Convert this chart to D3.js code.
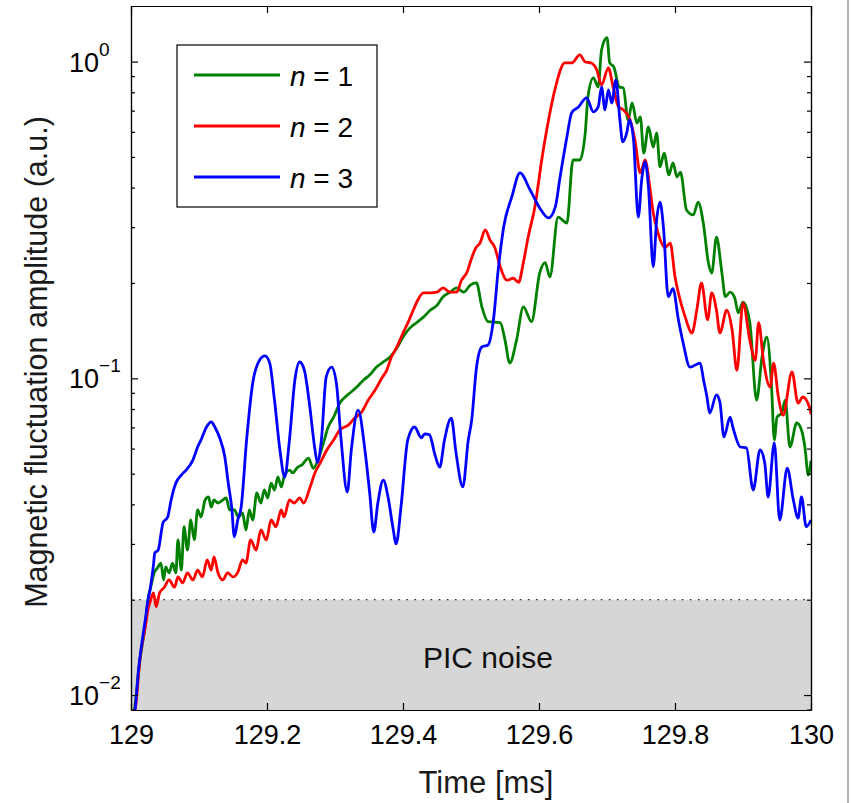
<!DOCTYPE html>
<html>
<head>
<meta charset="utf-8">
<script src="https://cdn.jsdelivr.net/npm/d3@7"></script>
<style>
  body { margin: 0; background: #fff; }
  svg { display: block; font-family: "Liberation Sans", Arial, Helvetica, sans-serif; }
</style>
</head>
<body>
<div id="chart"></div>
<script>
// n = 1 (green)
const timeN1 = [129.003, 129.007, 129.011, 129.016, 129.021, 129.025, 129.029, 129.034, 129.039, 129.044, 129.048, 129.051, 129.056, 129.061, 129.066, 129.069, 129.074, 129.078, 129.083, 129.088, 129.093, 129.098, 129.103, 129.109, 129.114, 129.118, 129.122, 129.128, 129.135, 129.140, 129.145, 129.152, 129.158, 129.164, 129.169, 129.174, 129.179, 129.185, 129.191, 129.196, 129.201, 129.206, 129.211, 129.216, 129.221, 129.225, 129.233, 129.238, 129.245, 129.251, 129.261, 129.268, 129.275, 129.283, 129.290, 129.298, 129.307, 129.315, 129.322, 129.332, 129.342, 129.351, 129.361, 129.371, 129.381, 129.391, 129.400, 129.410, 129.420, 129.430, 129.440, 129.450, 129.459, 129.469, 129.479, 129.489, 129.499, 129.508, 129.516, 129.525, 129.543, 129.550, 129.557, 129.567, 129.577, 129.589, 129.601, 129.609, 129.616, 129.628, 129.641, 129.650, 129.660, 129.668, 129.672, 129.680, 129.687, 129.692, 129.700, 129.704, 129.710, 129.718, 129.724, 129.731, 129.737, 129.744, 129.749, 129.754, 129.761, 129.768, 129.773, 129.778, 129.784, 129.791, 129.797, 129.803, 129.808, 129.817, 129.827, 129.834, 129.842, 129.849, 129.854, 129.861, 129.869, 129.874, 129.881, 129.888, 129.893, 129.900, 129.910, 129.920, 129.928, 129.935, 129.942, 129.946, 129.950, 129.957, 129.962, 129.969, 129.979, 129.986, 129.991, 129.996, 130.000];
const ampN1 = [0.0084, 0.0097, 0.0118, 0.0142, 0.0166, 0.0200, 0.0219, 0.0243, 0.0252, 0.0261, 0.0231, 0.0254, 0.0243, 0.0261, 0.0243, 0.0309, 0.0248, 0.0340, 0.0287, 0.0357, 0.0309, 0.0384, 0.0365, 0.0413, 0.0422, 0.0392, 0.0413, 0.0404, 0.0413, 0.0419, 0.0384, 0.0384, 0.0365, 0.0376, 0.0332, 0.0384, 0.0357, 0.0435, 0.0404, 0.0444, 0.0419, 0.0467, 0.0444, 0.0488, 0.0454, 0.0488, 0.0513, 0.0503, 0.0524, 0.0532, 0.0560, 0.0520, 0.0552, 0.0625, 0.0702, 0.0754, 0.0835, 0.0873, 0.0899, 0.0939, 0.0988, 0.1024, 0.1085, 0.1126, 0.1168, 0.1247, 0.135, 0.144, 0.150, 0.156, 0.164, 0.170, 0.181, 0.187, 0.193, 0.187, 0.197, 0.200, 0.168, 0.151, 0.150, 0.132, 0.1117, 0.132, 0.168, 0.151, 0.215, 0.232, 0.209, 0.323, 0.309, 0.489, 0.489, 0.596, 0.774, 0.888, 0.832, 1.088, 1.19, 0.990, 0.962, 0.832, 0.826, 0.654, 0.740, 0.640, 0.669, 0.514, 0.622, 0.537, 0.596, 0.465, 0.514, 0.439, 0.479, 0.432, 0.448, 0.340, 0.328, 0.360, 0.305, 0.232, 0.215, 0.279, 0.215, 0.181, 0.187, 0.179, 0.161, 0.174, 0.150, 0.0854, 0.1168, 0.135, 0.0939, 0.0639, 0.0754, 0.0777, 0.0854, 0.0607, 0.0723, 0.0687, 0.0607, 0.0495, 0.055];

// n = 2 (red)
const timeN2 = [129.004, 129.008, 129.013, 129.021, 129.025, 129.029, 129.033, 129.037, 129.042, 129.049, 129.056, 129.064, 129.069, 129.076, 129.083, 129.091, 129.098, 129.105, 129.112, 129.118, 129.122, 129.128, 129.135, 129.142, 129.150, 129.157, 129.164, 129.169, 129.176, 129.184, 129.191, 129.199, 129.206, 129.213, 129.221, 129.225, 129.233, 129.240, 129.248, 129.254, 129.262, 129.271, 129.278, 129.288, 129.298, 129.307, 129.320, 129.329, 129.339, 129.349, 129.359, 129.369, 129.376, 129.383, 129.391, 129.400, 129.408, 129.415, 129.422, 129.430, 129.440, 129.450, 129.459, 129.469, 129.479, 129.486, 129.494, 129.501, 129.507, 129.513, 129.521, 129.528, 129.535, 129.543, 129.553, 129.562, 129.570, 129.577, 129.584, 129.594, 129.604, 129.614, 129.624, 129.638, 129.648, 129.660, 129.668, 129.677, 129.685, 129.692, 129.702, 129.709, 129.717, 129.724, 129.734, 129.741, 129.749, 129.756, 129.763, 129.768, 129.775, 129.785, 129.793, 129.800, 129.805, 129.815, 129.825, 129.832, 129.839, 129.848, 129.854, 129.861, 129.866, 129.876, 129.884, 129.891, 129.900, 129.910, 129.918, 129.923, 129.930, 129.940, 129.945, 129.952, 129.959, 129.972, 129.981, 129.988, 129.999, 130.000];
const ampN2 = [0.0084, 0.0097, 0.0129, 0.0164, 0.0186, 0.0200, 0.0210, 0.0190, 0.0210, 0.0219, 0.0231, 0.0219, 0.0236, 0.0226, 0.0243, 0.0231, 0.0248, 0.0236, 0.0267, 0.0248, 0.0273, 0.0243, 0.0231, 0.0243, 0.0236, 0.0244, 0.0267, 0.0261, 0.0309, 0.0287, 0.0332, 0.0309, 0.0357, 0.0340, 0.0384, 0.0365, 0.0413, 0.0404, 0.0419, 0.0404, 0.0444, 0.0506, 0.0539, 0.0594, 0.0639, 0.0687, 0.0713, 0.0749, 0.0782, 0.0854, 0.0918, 0.1002, 0.106, 0.1168, 0.1256, 0.139, 0.151, 0.164, 0.177, 0.186, 0.186, 0.187, 0.193, 0.187, 0.187, 0.204, 0.216, 0.240, 0.258, 0.267, 0.294, 0.273, 0.259, 0.225, 0.204, 0.207, 0.201, 0.232, 0.279, 0.348, 0.489, 0.654, 0.826, 0.990, 0.990, 1.05, 0.997, 0.990, 0.941, 0.844, 0.955, 0.832, 0.719, 0.704, 0.654, 0.566, 0.445, 0.489, 0.401, 0.333, 0.288, 0.259, 0.267, 0.209, 0.186, 0.156, 0.139, 0.164, 0.200, 0.153, 0.186, 0.164, 0.139, 0.164, 0.142, 0.106, 0.173, 0.132, 0.114, 0.150, 0.114, 0.0939, 0.1117, 0.0873, 0.0765, 0.1047, 0.0835, 0.0873, 0.0794, 0.0770];

// n = 3 (blue)
const timeN3 = [129.003, 129.006, 129.011, 129.016, 129.021, 129.025, 129.028, 129.033, 129.035, 129.040, 129.045, 129.047, 129.054, 129.059, 129.066, 129.074, 129.081, 129.091, 129.098, 129.103, 129.111, 129.118, 129.124, 129.130, 129.138, 129.143, 129.148, 129.152, 129.157, 129.162, 129.170, 129.179, 129.189, 129.197, 129.204, 129.211, 129.219, 129.226, 129.233, 129.241, 129.248, 129.255, 129.263, 129.270, 129.274, 129.280, 129.287, 129.295, 129.302, 129.309, 129.318, 129.324, 129.334, 129.344, 129.351, 129.357, 129.363, 129.371, 129.378, 129.385, 129.390, 129.397, 129.407, 129.417, 129.427, 129.432, 129.439, 129.447, 129.454, 129.461, 129.471, 129.478, 129.488, 129.496, 129.501, 129.508, 129.516, 129.525, 129.533, 129.540, 129.548, 129.560, 129.572, 129.587, 129.601, 129.614, 129.624, 129.631, 129.641, 129.648, 129.658, 129.670, 129.680, 129.687, 129.692, 129.697, 129.702, 129.707, 129.713, 129.719, 129.723, 129.729, 129.733, 129.739, 129.746, 129.751, 129.756, 129.761, 129.768, 129.773, 129.778, 129.783, 129.790, 129.797, 129.805, 129.812, 129.822, 129.837, 129.842, 129.847, 129.851, 129.861, 129.866, 129.872, 129.881, 129.885, 129.896, 129.905, 129.915, 129.925, 129.932, 129.937, 129.946, 129.954, 129.965, 129.974, 129.981, 129.986, 129.993, 130.000];
const ampN3 = [0.0084, 0.0090, 0.0120, 0.0146, 0.0173, 0.0200, 0.0215, 0.0257, 0.0281, 0.0287, 0.0332, 0.0350, 0.0365, 0.0413, 0.0467, 0.0495, 0.0513, 0.0552, 0.0607, 0.0639, 0.0702, 0.0728, 0.0697, 0.0653, 0.0564, 0.0467, 0.0392, 0.0316, 0.0357, 0.0392, 0.0639, 0.0966, 0.114, 0.1177, 0.1117, 0.0854, 0.0594, 0.0488, 0.0639, 0.0988, 0.1126, 0.106, 0.0811, 0.0607, 0.0543, 0.0639, 0.1009, 0.1085, 0.0966, 0.0639, 0.0437, 0.0594, 0.0794, 0.0594, 0.0435, 0.0327, 0.0404, 0.0477, 0.0422, 0.0340, 0.0300, 0.0392, 0.0639, 0.0702, 0.0649, 0.0668, 0.0663, 0.0573, 0.0524, 0.0639, 0.0749, 0.0581, 0.0454, 0.0639, 0.0738, 0.108, 0.1256, 0.1274, 0.153, 0.220, 0.300, 0.374, 0.445, 0.393, 0.345, 0.321, 0.348, 0.432, 0.578, 0.689, 0.719, 0.768, 0.694, 0.719, 0.832, 0.704, 0.814, 0.740, 0.875, 0.654, 0.558, 0.596, 0.654, 0.566, 0.323, 0.423, 0.482, 0.401, 0.225, 0.316, 0.360, 0.300, 0.181, 0.192, 0.153, 0.1293, 0.1085, 0.1117, 0.0988, 0.0873, 0.0777, 0.0886, 0.0841, 0.0653, 0.0754, 0.0702, 0.0607, 0.0603, 0.0444, 0.0594, 0.0539, 0.0422, 0.0625, 0.0357, 0.0520, 0.0413, 0.0362, 0.0422, 0.0340, 0.0357];

const seriesNames = ['1', '2', '3'];
const seriesColors = ['#008000', '#ff0000', '#0000ff'];
const xTickValues = [129, 129.2, 129.4, 129.6, 129.8, 130];
const yDecades = [-2, -1, 0];
const noiseLevel = 0.02;
const noiseLabelAt = [129.525, 0.0122];

const width = 852, height = 803;
const margin = {top: 6, right: 41, bottom: 93, left: 131};
const w = width - margin.left - margin.right;
const h = height - margin.top - margin.bottom;

const svg = d3.select('#chart').append('svg')
  .attr('width', width)
  .attr('height', height);

// page edge on the right of the original figure
svg.append('line')
  .attr('x1', 848).attr('x2', 848).attr('y1', 0).attr('y2', height)
  .attr('stroke', '#9c9c9c').attr('stroke-width', 1.5);

const xScale = d3.scaleLinear().domain([129, 130]).range([0, w]);
const yScale = d3.scaleLog().domain([0.00897, 1.498]).range([h, 0]);

const g = svg.append('g')
  .attr('transform', 'translate(' + [margin.left, margin.top] + ')');

g.append('clipPath').attr('id', 'plotclip')
  .append('rect').attr('width', w).attr('height', h);

// PIC noise band
g.append('rect')
  .attr('x', 0).attr('y', yScale(noiseLevel))
  .attr('width', w).attr('height', h - yScale(noiseLevel))
  .attr('fill', '#d6d6d6');

g.append('line')
  .attr('x1', 0).attr('x2', w)
  .attr('y1', yScale(noiseLevel)).attr('y2', yScale(noiseLevel))
  .attr('stroke', '#222').attr('stroke-width', 1.3)
  .attr('stroke-dasharray', '1.5,6.6');

g.append('text')
  .attr('x', xScale(noiseLabelAt[0]))
  .attr('y', yScale(noiseLabelAt[1]))
  .attr('text-anchor', 'middle')
  .style('font-size', '30px')
  .attr('fill', '#111')
  .text('PIC noise');

// curves
const line = d3.line()
  .curve(d3.curveMonotoneX)
  .x(d => xScale(d[0]))
  .y(d => yScale(d[1]));

const series = [
  d3.zip(timeN1, ampN1),
  d3.zip(timeN2, ampN2),
  d3.zip(timeN3, ampN3)
];

const curves = g.append('g').attr('clip-path', 'url(#plotclip)');
series.forEach((s, i) => {
  curves.append('path')
    .attr('d', line(s))
    .attr('fill', 'none')
    .attr('stroke', seriesColors[i])
    .attr('stroke-width', 2.8)
    .attr('stroke-linejoin', 'round');
});

// ticks, all pointing inwards
const yMajor = yDecades.map(d => Math.pow(10, d));
const yMinor = [];
[-3, -2, -1, 0].forEach(d => {
  for (let k = 2; k <= 9; k++) {
    const v = k * Math.pow(10, d);
    if (v > yScale.domain()[0] && v < yScale.domain()[1]) yMinor.push(v);
  }
});

function styleAxis(sel) {
  sel.selectAll('path, line').attr('stroke', '#000').attr('stroke-width', 1.2);
}

g.append('g').call(d3.axisLeft(yScale).tickValues(yMinor).tickSizeInner(-4).tickSizeOuter(0).tickFormat('')).call(styleAxis);
g.append('g').call(d3.axisLeft(yScale).tickValues(yMajor).tickSizeInner(-7).tickSizeOuter(0).tickFormat('')).call(styleAxis);
g.append('g').attr('transform', 'translate(' + w + ',0)')
  .call(d3.axisRight(yScale).tickValues(yMinor).tickSizeInner(-4).tickSizeOuter(0).tickFormat('')).call(styleAxis);
g.append('g').attr('transform', 'translate(' + w + ',0)')
  .call(d3.axisRight(yScale).tickValues(yMajor).tickSizeInner(-7).tickSizeOuter(0).tickFormat('')).call(styleAxis);
g.append('g').call(d3.axisTop(xScale).tickValues(xTickValues).tickSizeInner(-7).tickSizeOuter(0).tickFormat('')).call(styleAxis);

const xAxis = g.append('g').attr('transform', 'translate(0,' + h + ')')
  .call(d3.axisBottom(xScale).tickValues(xTickValues).tickSizeInner(-7).tickSizeOuter(0).tickPadding(15).tickFormat(d3.format('')))
  .call(styleAxis);
xAxis.selectAll('text')
  .style('font-size', '27px')
  .style('font-family', '"Liberation Sans", Arial, sans-serif')
  .attr('fill', '#000');

// y tick labels as 10^n
const yLabels = g.append('g');
yDecades.forEach(d => {
  const t = yLabels.append('text')
    .attr('x', 69 - margin.left)
    .attr('y', yScale(Math.pow(10, d)) + 10)
    .attr('fill', '#000');
  t.append('tspan').style('font-size', '27px').text('10');
  t.append('tspan').style('font-size', '19px').attr('dy', -16)
    .text(d < 0 ? '\u2212' + (-d) : String(d));
});

// axis titles
svg.append('text')
  .attr('x', 486).attr('y', 793)
  .attr('text-anchor', 'middle')
  .style('font-size', '31px')
  .attr('fill', '#1a1a1a')
  .text('Time [ms]');

svg.append('text')
  .attr('transform', 'translate(47,362) rotate(-90)')
  .attr('text-anchor', 'middle')
  .style('font-size', '30.5px')
  .attr('fill', '#1a1a1a')
  .text('Magnetic fluctuation amplitude (a.u.)');

// legend
const legend = svg.append('g').attr('transform', 'translate(177,45)');
legend.append('rect')
  .attr('width', 200).attr('height', 162)
  .attr('fill', '#fff').attr('stroke', '#000').attr('stroke-width', 1.2);

seriesNames.forEach((n, i) => {
  const y = 30 + i * 51;
  legend.append('line')
    .attr('x1', 17).attr('x2', 103).attr('y1', y).attr('y2', y)
    .attr('stroke', seriesColors[i]).attr('stroke-width', 2.8);
  const t = legend.append('text')
    .attr('x', 113).attr('y', y + 11)
    .style('font-size', '28px')
    .attr('fill', '#000');
  t.append('tspan').style('font-style', 'italic').text('n');
  t.append('tspan').text(' = ' + n);
});
</script>
</body>
</html>
